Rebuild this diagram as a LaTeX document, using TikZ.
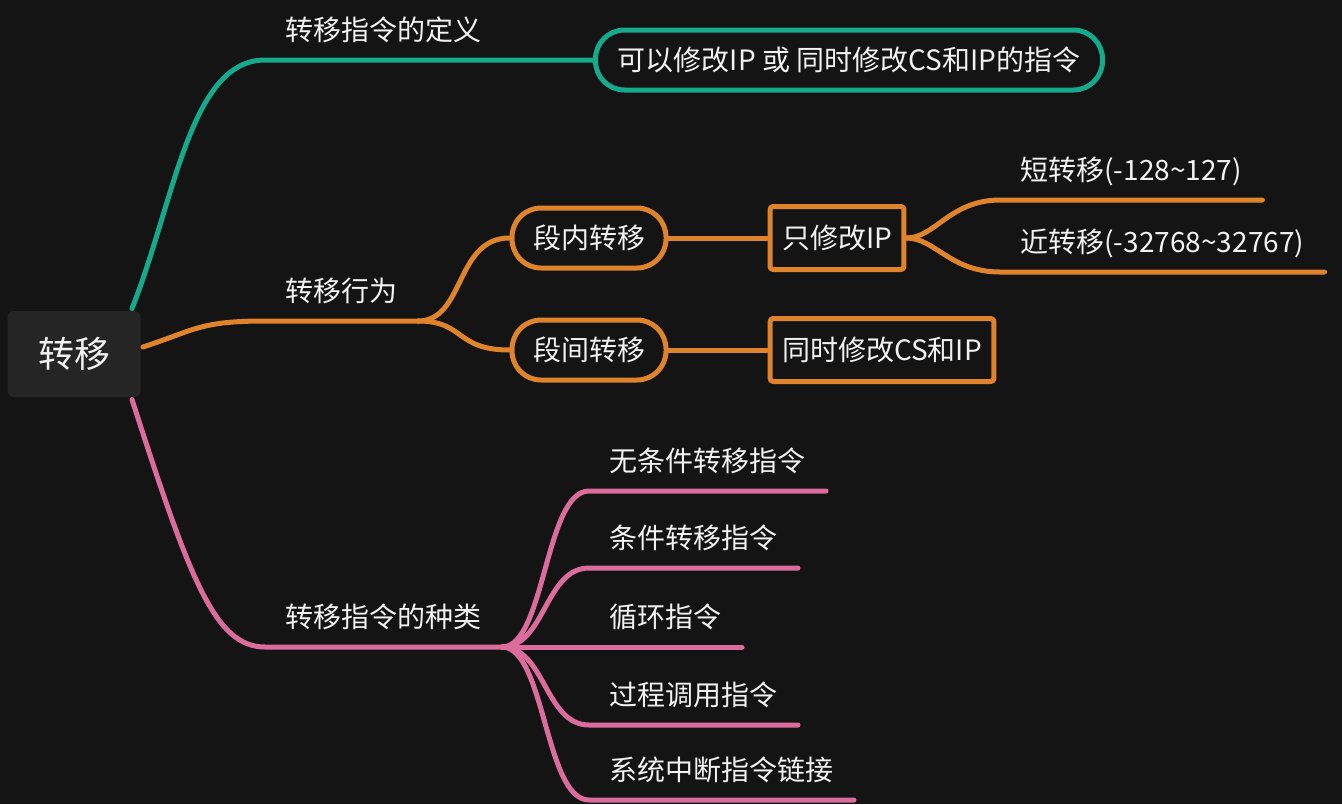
\documentclass[tikz,border=0pt]{standalone}
\usepackage{fontspec}
\setmainfont{Noto Sans CJK SC}

\definecolor{bgc}{RGB}{20,20,20}
\definecolor{rootc}{RGB}{37,37,37}
\definecolor{tealc}{RGB}{22,170,140}
\definecolor{orc}{RGB}{224,132,44}
\definecolor{pinkc}{RGB}{220,108,156}
\definecolor{txtc}{RGB}{242,242,242}

\begin{document}
\begin{tikzpicture}[x=1pt,y=-1pt,line width=5pt,line cap=round,line join=round,
  every node/.style={text=txtc,font=\fontsize{28}{34}\selectfont},
  leaf/.style={anchor=south west,inner xsep=18pt,inner ysep=0pt,text height=25pt,text depth=17.5pt},
  pill/.style={draw,rounded corners=29pt,minimum height=60pt,inner xsep=21pt},
  box/.style={draw,rounded corners=3pt,minimum height=63pt,inner xsep=12pt}]

\useasboundingbox (0,0) rectangle (1342,804);
\fill[bgc] (0,0) rectangle (1342,804);

\node[fill=rootc,rounded corners=6pt,minimum width=133pt,minimum height=86pt,
  font=\fontsize{36}{42}\selectfont] (root) at (74,354) {转移};

\node[leaf] (def) at (265,60) {转移指令的定义};
\node[pill,draw=tealc,minimum width=507pt] (defbox) at (849,60) {可以修改IP 或 同时修改CS和IP的指令};

\node[leaf] (act) at (265,321) {转移行为};
\node[pill,draw=orc] (intra) at (589,238) {段内转移};
\node[pill,draw=orc] (inter) at (589,350) {段间转移};
\node[box,draw=orc] (ipo) at (837,238) {只修改IP};
\node[box,draw=orc] (csip) at (882,350) {同时修改CS和IP};
\node[leaf] (short) at (1000,200) {短转移(-128\textasciitilde127)};
\node[leaf] (near) at (1000,272) {近转移(-32768\textasciitilde32767)};

\node[leaf] (kind) at (265,647) {转移指令的种类};
\node[leaf] (uncond) at (589,491) {无条件转移指令};
\node[leaf] (cond) at (589,568) {条件转移指令};
\node[leaf] (loop) at (589,647) {循环指令};
\node[leaf] (call) at (589,725) {过程调用指令};
\node[leaf] (intr) at (589,800) {系统中断指令链接};

\draw[tealc] ([xshift=-11pt]root.north east) .. controls (175,200) and (190,60) .. (def.south west) -- (def.south east) -- (defbox.west);

\draw[orc] ([yshift=7pt]root.east) .. controls (195,330) and (200,321) .. (act.south west) -- (act.south east);
\draw[orc] (act.south east) .. controls (465,321) and (455,238) .. (intra.west);
\draw[orc] (act.south east) .. controls (465,321) and (455,350) .. (inter.west);
\draw[orc] (intra.east) -- (ipo.west);
\draw[orc] (inter.east) -- (csip.west);
\draw[orc] (ipo.east) .. controls (935,238) and (950,200) .. (short.south west) -- (short.south east);
\draw[orc] (ipo.east) .. controls (935,238) and (950,272) .. (near.south west) -- (near.south east);

\draw[pinkc] ([xshift=-11pt]root.south east) .. controls (190,580) and (215,647) .. (kind.south west) -- (kind.south east);
\draw[pinkc] (kind.south east) .. controls (545,647) and (545,491) .. (uncond.south west) -- (uncond.south east);
\draw[pinkc] (kind.south east) .. controls (545,647) and (545,568) .. (cond.south west) -- (cond.south east);
\draw[pinkc] (kind.south east) -- (loop.south west) -- (loop.south east);
\draw[pinkc] (kind.south east) .. controls (545,647) and (545,725) .. (call.south west) -- (call.south east);
\draw[pinkc] (kind.south east) .. controls (545,647) and (545,800) .. (intr.south west) -- (intr.south east);

\end{tikzpicture}
\end{document}
